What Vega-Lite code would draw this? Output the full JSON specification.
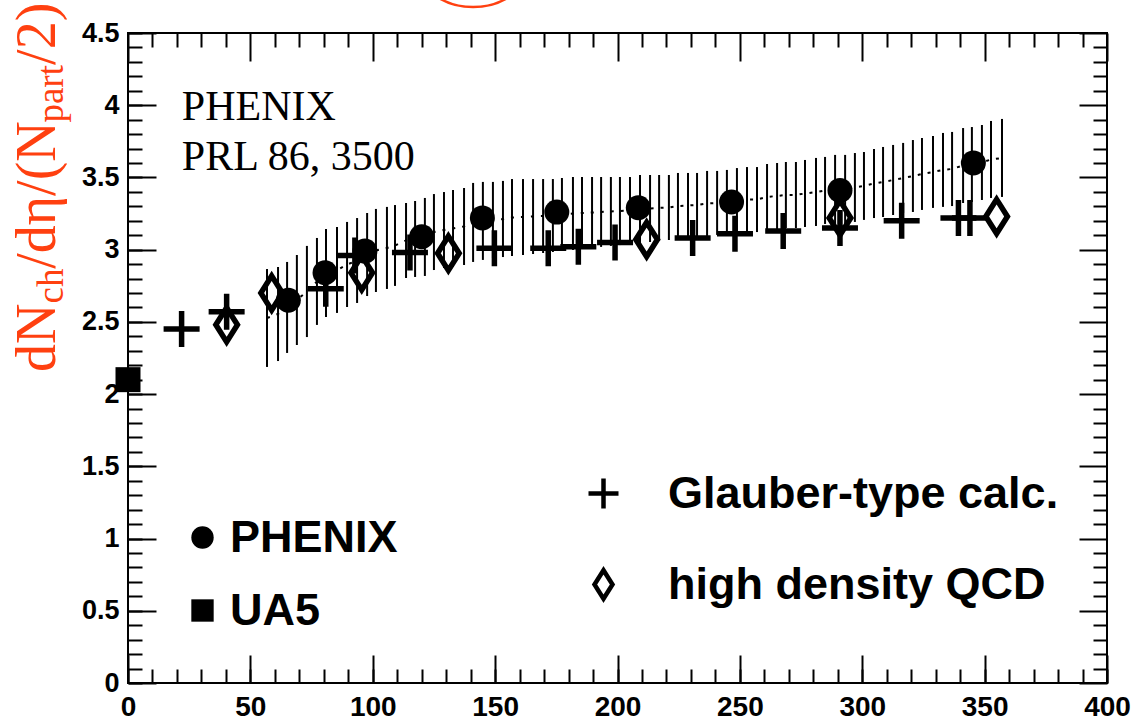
{
  "$schema": "https://vega.github.io/schema/vega-lite/v6.json",
  "width": 979,
  "height": 650,
  "autosize": {"type": "none"},
  "padding": {"left": 128, "top": 33, "right": 27, "bottom": 43},
  "background": "white",
  "config": {
    "view": {"stroke": "black", "strokeWidth": 2},
    "axis": {"grid": false, "domain": false, "title": null}
  },
  "datasets": {
    "band": [
      {"npart": 56.8, "lo": 2.188, "hi": 2.866, "mid": 2.527},
      {"npart": 61.3, "lo": 2.229, "hi": 2.880, "mid": 2.555},
      {"npart": 65.0, "lo": 2.285, "hi": 2.915, "mid": 2.600},
      {"npart": 69.0, "lo": 2.340, "hi": 2.963, "mid": 2.652},
      {"npart": 73.1, "lo": 2.395, "hi": 3.026, "mid": 2.711},
      {"npart": 77.2, "lo": 2.479, "hi": 3.081, "mid": 2.780},
      {"npart": 80.9, "lo": 2.534, "hi": 3.143, "mid": 2.839},
      {"npart": 85.4, "lo": 2.562, "hi": 3.157, "mid": 2.859},
      {"npart": 89.5, "lo": 2.603, "hi": 3.192, "mid": 2.897},
      {"npart": 93.6, "lo": 2.631, "hi": 3.219, "mid": 2.925},
      {"npart": 97.7, "lo": 2.679, "hi": 3.254, "mid": 2.967},
      {"npart": 101.3, "lo": 2.707, "hi": 3.282, "mid": 2.994},
      {"npart": 105.8, "lo": 2.728, "hi": 3.296, "mid": 3.012},
      {"npart": 109.1, "lo": 2.749, "hi": 3.309, "mid": 3.029},
      {"npart": 113.6, "lo": 2.804, "hi": 3.323, "mid": 3.064},
      {"npart": 117.3, "lo": 2.811, "hi": 3.337, "mid": 3.074},
      {"npart": 121.3, "lo": 2.818, "hi": 3.358, "mid": 3.088},
      {"npart": 125.0, "lo": 2.859, "hi": 3.385, "mid": 3.122},
      {"npart": 129.1, "lo": 2.873, "hi": 3.399, "mid": 3.136},
      {"npart": 132.8, "lo": 2.880, "hi": 3.413, "mid": 3.147},
      {"npart": 137.3, "lo": 2.894, "hi": 3.427, "mid": 3.161},
      {"npart": 141.0, "lo": 2.915, "hi": 3.462, "mid": 3.188},
      {"npart": 145.0, "lo": 2.929, "hi": 3.469, "mid": 3.199},
      {"npart": 149.1, "lo": 2.942, "hi": 3.469, "mid": 3.206},
      {"npart": 153.2, "lo": 2.949, "hi": 3.476, "mid": 3.212},
      {"npart": 156.9, "lo": 2.956, "hi": 3.489, "mid": 3.223},
      {"npart": 161.4, "lo": 2.963, "hi": 3.489, "mid": 3.226},
      {"npart": 165.5, "lo": 2.970, "hi": 3.489, "mid": 3.230},
      {"npart": 169.6, "lo": 2.977, "hi": 3.489, "mid": 3.233},
      {"npart": 173.6, "lo": 2.984, "hi": 3.489, "mid": 3.237},
      {"npart": 177.3, "lo": 2.991, "hi": 3.496, "mid": 3.244},
      {"npart": 181.8, "lo": 2.998, "hi": 3.503, "mid": 3.250},
      {"npart": 185.5, "lo": 3.005, "hi": 3.503, "mid": 3.254},
      {"npart": 189.6, "lo": 3.012, "hi": 3.503, "mid": 3.257},
      {"npart": 193.3, "lo": 3.019, "hi": 3.503, "mid": 3.261},
      {"npart": 197.3, "lo": 3.026, "hi": 3.503, "mid": 3.264},
      {"npart": 201.0, "lo": 3.032, "hi": 3.503, "mid": 3.268},
      {"npart": 205.1, "lo": 3.039, "hi": 3.503, "mid": 3.271},
      {"npart": 209.2, "lo": 3.046, "hi": 3.517, "mid": 3.282},
      {"npart": 213.3, "lo": 3.053, "hi": 3.517, "mid": 3.285},
      {"npart": 217.0, "lo": 3.060, "hi": 3.517, "mid": 3.289},
      {"npart": 221.0, "lo": 3.067, "hi": 3.517, "mid": 3.292},
      {"npart": 224.7, "lo": 3.074, "hi": 3.531, "mid": 3.302},
      {"npart": 228.8, "lo": 3.081, "hi": 3.531, "mid": 3.306},
      {"npart": 232.5, "lo": 3.088, "hi": 3.531, "mid": 3.309},
      {"npart": 236.6, "lo": 3.095, "hi": 3.545, "mid": 3.320},
      {"npart": 240.7, "lo": 3.102, "hi": 3.545, "mid": 3.323},
      {"npart": 244.7, "lo": 3.109, "hi": 3.552, "mid": 3.330},
      {"npart": 248.8, "lo": 3.116, "hi": 3.565, "mid": 3.341},
      {"npart": 252.9, "lo": 3.122, "hi": 3.572, "mid": 3.347},
      {"npart": 257.0, "lo": 3.122, "hi": 3.572, "mid": 3.347},
      {"npart": 261.1, "lo": 3.136, "hi": 3.593, "mid": 3.365},
      {"npart": 265.2, "lo": 3.143, "hi": 3.600, "mid": 3.372},
      {"npart": 268.8, "lo": 3.150, "hi": 3.607, "mid": 3.379},
      {"npart": 272.9, "lo": 3.150, "hi": 3.607, "mid": 3.379},
      {"npart": 276.6, "lo": 3.157, "hi": 3.621, "mid": 3.389},
      {"npart": 281.1, "lo": 3.164, "hi": 3.635, "mid": 3.399},
      {"npart": 284.8, "lo": 3.178, "hi": 3.642, "mid": 3.410},
      {"npart": 288.9, "lo": 3.178, "hi": 3.656, "mid": 3.417},
      {"npart": 293.0, "lo": 3.178, "hi": 3.656, "mid": 3.417},
      {"npart": 297.0, "lo": 3.192, "hi": 3.669, "mid": 3.431},
      {"npart": 300.7, "lo": 3.206, "hi": 3.676, "mid": 3.441},
      {"npart": 304.8, "lo": 3.219, "hi": 3.697, "mid": 3.458},
      {"npart": 308.5, "lo": 3.226, "hi": 3.711, "mid": 3.469},
      {"npart": 312.6, "lo": 3.240, "hi": 3.725, "mid": 3.482},
      {"npart": 316.7, "lo": 3.254, "hi": 3.739, "mid": 3.496},
      {"npart": 320.7, "lo": 3.261, "hi": 3.759, "mid": 3.510},
      {"npart": 324.4, "lo": 3.275, "hi": 3.773, "mid": 3.524},
      {"npart": 328.9, "lo": 3.289, "hi": 3.787, "mid": 3.538},
      {"npart": 333.0, "lo": 3.296, "hi": 3.808, "mid": 3.552},
      {"npart": 336.7, "lo": 3.302, "hi": 3.815, "mid": 3.559},
      {"npart": 341.2, "lo": 3.323, "hi": 3.842, "mid": 3.583},
      {"npart": 344.8, "lo": 3.330, "hi": 3.849, "mid": 3.590},
      {"npart": 348.9, "lo": 3.344, "hi": 3.863, "mid": 3.604},
      {"npart": 352.6, "lo": 3.358, "hi": 3.891, "mid": 3.624},
      {"npart": 357.1, "lo": 3.365, "hi": 3.905, "mid": 3.635}
    ],
    "measured": [
      {"npart": 0, "dndeta": 2.10, "series": "UA5"},
      {"npart": 65.5, "dndeta": 2.65, "series": "PHENIX"},
      {"npart": 80.5, "dndeta": 2.84, "series": "PHENIX"},
      {"npart": 96.8, "dndeta": 2.99, "series": "PHENIX"},
      {"npart": 120.0, "dndeta": 3.09, "series": "PHENIX"},
      {"npart": 144.8, "dndeta": 3.22, "series": "PHENIX"},
      {"npart": 175.2, "dndeta": 3.26, "series": "PHENIX"},
      {"npart": 208.5, "dndeta": 3.29, "series": "PHENIX"},
      {"npart": 246.6, "dndeta": 3.33, "series": "PHENIX"},
      {"npart": 290.9, "dndeta": 3.41, "series": "PHENIX"},
      {"npart": 345.4, "dndeta": 3.60, "series": "PHENIX"}
    ],
    "models": [
      {"npart": 21.9, "dndeta": 2.45, "model": "Glauber-type calc."},
      {"npart": 40.3, "dndeta": 2.57, "model": "Glauber-type calc."},
      {"npart": 80.8, "dndeta": 2.73, "model": "Glauber-type calc."},
      {"npart": 92.7, "dndeta": 2.96, "model": "Glauber-type calc."},
      {"npart": 115.2, "dndeta": 2.98, "model": "Glauber-type calc."},
      {"npart": 149.7, "dndeta": 3.01, "model": "Glauber-type calc."},
      {"npart": 171.7, "dndeta": 3.01, "model": "Glauber-type calc."},
      {"npart": 184.0, "dndeta": 3.02, "model": "Glauber-type calc."},
      {"npart": 199.0, "dndeta": 3.05, "model": "Glauber-type calc."},
      {"npart": 230.7, "dndeta": 3.08, "model": "Glauber-type calc."},
      {"npart": 248.0, "dndeta": 3.11, "model": "Glauber-type calc."},
      {"npart": 267.7, "dndeta": 3.13, "model": "Glauber-type calc."},
      {"npart": 290.9, "dndeta": 3.15, "model": "Glauber-type calc."},
      {"npart": 316.1, "dndeta": 3.20, "model": "Glauber-type calc."},
      {"npart": 339.3, "dndeta": 3.22, "model": "Glauber-type calc."},
      {"npart": 344.0, "dndeta": 3.22, "model": "Glauber-type calc."},
      {"npart": 40.3, "dndeta": 2.48, "model": "high density QCD"},
      {"npart": 58.7, "dndeta": 2.70, "model": "high density QCD"},
      {"npart": 95.5, "dndeta": 2.84, "model": "high density QCD"},
      {"npart": 130.9, "dndeta": 2.975, "model": "high density QCD"},
      {"npart": 211.9, "dndeta": 3.07, "model": "high density QCD"},
      {"npart": 290.9, "dndeta": 3.22, "model": "high density QCD"},
      {"npart": 354.9, "dndeta": 3.23, "model": "high density QCD"}
    ],
    "notes": [
      {"npart": 22, "dndeta": 3.898, "text": "PHENIX"},
      {"npart": 22, "dndeta": 3.552, "text": "PRL 86, 3500"}
    ],
    "titleMain": [
      {"npart": -29.8, "dndeta": 2.153, "text": "dN"},
      {"npart": -29.8, "dndeta": 2.868, "text": "/dη/(N"},
      {"npart": -29.8, "dndeta": 4.279, "text": "/2)"}
    ],
    "titleSub": [
      {"npart": -26.6, "dndeta": 2.627, "text": "ch"},
      {"npart": -26.6, "dndeta": 3.880, "text": "part"}
    ],
    "circled": [
      {"npart": 141, "dndeta": 5.15}
    ]
  },
  "resolve": {
    "scale": {"shape": "independent"},
    "legend": {"shape": "independent"},
    "axis": {"x": "independent", "y": "independent"}
  },
  "layer": [
    {
      "data": {"name": "band"},
      "mark": {"type": "rule", "color": "black", "strokeWidth": 2},
      "encoding": {
        "x": {
          "field": "npart", "type": "quantitative",
          "scale": {"domain": [0, 400], "nice": false, "zero": false},
          "axis": {
            "orient": "bottom",
            "values": [0, 50, 100, 150, 200, 250, 300, 350, 400],
            "format": "d",
            "tickSize": -28, "tickWidth": 2, "tickColor": "black",
            "labelFont": "Liberation Sans", "labelFontWeight": "bold", "labelFontSize": 28, "labelColor": "black",
            "labelPadding": 38, "labelFlush": false, "labelOverlap": false
          }
        },
        "y": {
          "field": "lo", "type": "quantitative",
          "scale": {"domain": [0, 4.5], "nice": false, "zero": false},
          "axis": {
            "orient": "left",
            "values": [0, 0.5, 1, 1.5, 2, 2.5, 3, 3.5, 4, 4.5],
            "format": "~g",
            "tickSize": -28, "tickWidth": 2, "tickColor": "black",
            "labelFont": "Liberation Sans", "labelFontWeight": "bold", "labelFontSize": 27, "labelColor": "black",
            "labelPadding": 37, "labelFlush": false, "labelOverlap": false
          }
        },
        "y2": {"field": "hi"}
      }
    },
    {
      "data": {"name": "band"},
      "mark": {"type": "line", "color": "black", "strokeWidth": 2, "strokeDash": [3, 7]},
      "encoding": {
        "x": {
          "field": "npart", "type": "quantitative", "scale": {"domain": [0, 400]},
          "axis": {
            "orient": "bottom", "labels": false,
            "values": [0,10,20,30,40,50,60,70,80,90,100,110,120,130,140,150,160,170,180,190,200,210,220,230,240,250,260,270,280,290,300,310,320,330,340,350,360,370,380,390,400],
            "tickSize": -14, "tickWidth": 2, "tickColor": "black"
          }
        },
        "y": {
          "field": "mid", "type": "quantitative", "scale": {"domain": [0, 4.5]},
          "axis": {
            "orient": "left", "labels": false,
            "values": [0,0.1,0.2,0.3,0.4,0.5,0.6,0.7,0.8,0.9,1,1.1,1.2,1.3,1.4,1.5,1.6,1.7,1.8,1.9,2,2.1,2.2,2.3,2.4,2.5,2.6,2.7,2.8,2.9,3,3.1,3.2,3.3,3.4,3.5,3.6,3.7,3.8,3.9,4,4.1,4.2,4.3,4.4,4.5],
            "tickSize": -14, "tickWidth": 2, "tickColor": "black"
          }
        }
      }
    },
    {
      "data": {"name": "models"},
      "mark": {"type": "point", "filled": false, "stroke": "black", "strokeWidth": 5.5, "size": 1296, "opacity": 1},
      "encoding": {
        "x": {"field": "npart", "type": "quantitative", "scale": {"domain": [0, 400]}, "axis": null},
        "y": {"field": "dndeta", "type": "quantitative", "scale": {"domain": [0, 4.5]}, "axis": null},
        "shape": {
          "field": "model", "type": "nominal",
          "scale": {"domain": ["Glauber-type calc.", "high density QCD"], "range": ["M-1,0H1M0,-1V1", "M0,-0.95L0.6,0L0,0.95L-0.6,0Z"]},
          "legend": {
            "orient": "none", "legendX": 453, "legendY": 438, "title": null, "padding": 0,
            "symbolSize": 900, "symbolStrokeWidth": 4.5, "symbolStrokeColor": "black", "symbolFillColor": "transparent",
            "labelFont": "Liberation Sans", "labelFontWeight": "bold", "labelFontSize": 45, "labelColor": "black",
            "labelOffset": 42, "rowPadding": 43, "labelLimit": 0
          }
        }
      }
    },
    {
      "data": {"name": "measured"},
      "mark": {"type": "point", "filled": true, "color": "black", "size": 625, "opacity": 1},
      "encoding": {
        "x": {"field": "npart", "type": "quantitative", "scale": {"domain": [0, 400]}, "axis": null},
        "y": {"field": "dndeta", "type": "quantitative", "scale": {"domain": [0, 4.5]}, "axis": null},
        "shape": {
          "field": "series", "type": "nominal",
          "scale": {"domain": ["PHENIX", "UA5"], "range": ["circle", "square"]},
          "legend": {
            "orient": "none", "legendX": 52, "legendY": 482, "title": null, "padding": 0,
            "symbolSize": 500, "symbolStrokeWidth": 0, "symbolFillColor": "black",
            "labelFont": "Liberation Sans", "labelFontWeight": "bold", "labelFontSize": 45, "labelColor": "black",
            "labelOffset": 5, "rowPadding": 27, "labelLimit": 0
          }
        }
      }
    },
    {
      "data": {"name": "notes"},
      "mark": {"type": "text", "font": "Liberation Serif", "fontSize": 42, "color": "black", "align": "left", "baseline": "alphabetic"},
      "encoding": {
        "x": {"field": "npart", "type": "quantitative", "scale": {"domain": [0, 400]}, "axis": null},
        "y": {"field": "dndeta", "type": "quantitative", "scale": {"domain": [0, 4.5]}, "axis": null},
        "text": {"field": "text"}
      }
    },
    {
      "data": {"name": "titleMain"},
      "mark": {"type": "text", "font": "Liberation Serif", "fontSize": 56, "color": "#ff4010", "align": "left", "baseline": "alphabetic", "angle": 270},
      "encoding": {
        "x": {"field": "npart", "type": "quantitative", "scale": {"domain": [0, 400]}, "axis": null},
        "y": {"field": "dndeta", "type": "quantitative", "scale": {"domain": [0, 4.5]}, "axis": null},
        "text": {"field": "text"}
      }
    },
    {
      "data": {"name": "titleSub"},
      "mark": {"type": "text", "font": "Liberation Serif", "fontSize": 37, "color": "#ff4010", "align": "left", "baseline": "alphabetic", "angle": 270},
      "encoding": {
        "x": {"field": "npart", "type": "quantitative", "scale": {"domain": [0, 400]}, "axis": null},
        "y": {"field": "dndeta", "type": "quantitative", "scale": {"domain": [0, 4.5]}, "axis": null},
        "text": {"field": "text"}
      }
    },
    {
      "data": {"name": "circled"},
      "mark": {"type": "point", "shape": "circle", "filled": false, "stroke": "#ff4010", "strokeWidth": 2.5, "size": 18496, "opacity": 1},
      "encoding": {
        "x": {
          "field": "npart", "type": "quantitative", "scale": {"domain": [0, 400]},
          "axis": {
            "orient": "top", "labels": false,
            "values": [0,10,20,30,40,50,60,70,80,90,100,110,120,130,140,150,160,170,180,190,200,210,220,230,240,250,260,270,280,290,300,310,320,330,340,350,360,370,380,390,400],
            "tickSize": {"condition": {"test": "datum.value % 50 === 0", "value": -28}, "value": -14},
            "tickWidth": 2, "tickColor": "black"
          }
        },
        "y": {
          "field": "dndeta", "type": "quantitative", "scale": {"domain": [0, 4.5]},
          "axis": {
            "orient": "right", "labels": false,
            "values": [0,0.1,0.2,0.3,0.4,0.5,0.6,0.7,0.8,0.9,1,1.1,1.2,1.3,1.4,1.5,1.6,1.7,1.8,1.9,2,2.1,2.2,2.3,2.4,2.5,2.6,2.7,2.8,2.9,3,3.1,3.2,3.3,3.4,3.5,3.6,3.7,3.8,3.9,4,4.1,4.2,4.3,4.4,4.5],
            "tickSize": {"condition": {"test": "round(datum.value * 10) % 5 === 0", "value": -28}, "value": -14},
            "tickWidth": 2, "tickColor": "black"
          }
        }
      }
    }
  ]
}
